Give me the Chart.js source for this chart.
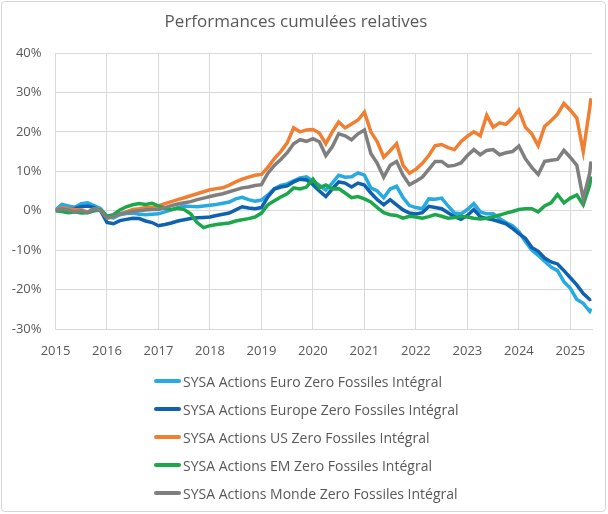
<!DOCTYPE html>
<html>
<head>
<meta charset="utf-8">
<script src="https://cdn.jsdelivr.net/npm/chart.js@4/dist/chart.umd.min.js"></script>
<style>
  html, body { margin:0; padding:0; background:#fff; }
  #wrap { position:relative; width:608px; height:514px; overflow:hidden; }
  #frame { position:absolute; left:1px; top:1px; width:603px; height:509px; border:1px solid #d6d6d6; border-radius:4px; box-sizing:content-box; }
  #c { position:absolute; left:0; top:0; }
  #legend { position:absolute; left:154px; top:367px; font-family:"Open Sans", sans-serif; font-size:14px; color:#595959; }
  .item { height:28px; display:flex; align-items:center; white-space:nowrap; }
  .sw { width:27px; height:4px; margin-right:2px; border-radius:2px; }
</style>
</head>
<body>
<div id="wrap">
  <div id="frame"></div>
  <canvas id="c" width="608" height="514"></canvas>
  <div id="legend"></div>
</div>
<script>
const title = "Performances cumulées relatives";
const seriesNames = [
  "SYSA Actions Euro Zero Fossiles Intégral",
  "SYSA Actions Europe Zero Fossiles Intégral",
  "SYSA Actions US Zero Fossiles Intégral",
  "SYSA Actions EM Zero Fossiles Intégral",
  "SYSA Actions Monde Zero Fossiles Intégral"
];
const seriesColors = ["#27aae1", "#0f62b0", "#f07f32", "#1ba74a", "#7f7f7f"];
const yTicks = [-30, -20, -10, 0, 10, 20, 30, 40];
const yearTicks = [2015, 2016, 2017, 2018, 2019, 2020, 2021, 2022, 2023, 2024, 2025];

// dates in decimal years (1/8 year steps), last point = end of data
const dates = [
 2015.000,2015.125,2015.250,2015.375,2015.500,2015.625,2015.750,2015.875,
 2016.000,2016.125,2016.250,2016.375,2016.500,2016.625,2016.750,2016.875,
 2017.000,2017.125,2017.250,2017.375,2017.500,2017.625,2017.750,2017.875,
 2018.000,2018.125,2018.250,2018.375,2018.500,2018.625,2018.750,2018.875,
 2019.000,2019.125,2019.250,2019.375,2019.500,2019.625,2019.750,2019.875,
 2020.000,2020.125,2020.250,2020.375,2020.500,2020.625,2020.750,2020.875,
 2021.000,2021.125,2021.250,2021.375,2021.500,2021.625,2021.750,2021.875,
 2022.000,2022.125,2022.250,2022.375,2022.500,2022.625,2022.750,2022.875,
 2023.000,2023.125,2023.250,2023.375,2023.500,2023.625,2023.750,2023.875,
 2024.000,2024.125,2024.250,2024.375,2024.500,2024.625,2024.750,2024.875,
 2025.000,2025.125,2025.250,2025.375,2025.400
];

const euro = [
 0.2,1.6,1.2,0.9,1.8,2.0,1.3,0.5,
 -1.5,-1.8,-1.0,-0.7,-0.6,-0.9,-1.0,-0.9,
 -0.8,-0.3,0.2,0.8,1.2,1.1,1.0,1.2,
 1.4,1.6,1.9,2.2,3.0,3.4,2.8,2.4,
 2.7,4.0,5.6,6.4,6.8,7.6,8.3,8.6,
 7.5,6.5,5.2,7.0,9.0,8.5,8.6,9.6,
 9.0,5.8,5.0,3.3,5.5,6.2,3.3,1.3,
 0.8,0.5,3.0,2.9,3.2,1.2,-0.6,-0.8,
 0.3,1.8,-0.3,-0.8,-0.8,-2.0,-3.0,-3.8,
 -5.3,-7.8,-10.0,-11.3,-12.8,-14.3,-15.2,-18.0,
 -19.7,-22.5,-23.5,-25.5,-24.8
];
const europe = [
 0.0,0.5,0.3,0.6,1.0,1.2,0.8,0.0,
 -3.0,-3.3,-2.5,-2.2,-1.9,-2.0,-2.6,-3.0,
 -3.8,-3.5,-3.1,-2.6,-2.3,-2.0,-1.8,-1.7,
 -1.6,-1.2,-0.9,-0.6,0.2,1.0,0.7,0.5,
 0.8,3.5,5.5,6.0,6.3,7.3,8.0,7.8,
 6.6,5.0,3.6,5.5,7.3,7.0,6.0,7.0,
 6.5,4.5,2.8,1.5,2.8,1.5,0.2,-0.6,
 -0.8,-0.5,1.1,0.8,0.5,-0.5,-1.5,-2.2,
 -1.2,0.3,-1.5,-2.0,-2.3,-2.8,-3.3,-4.5,
 -5.8,-7.0,-9.3,-10.3,-12.0,-13.0,-13.5,-15.2,
 -17.0,-18.8,-21.0,-22.5,-22.3
];
const us = [
 0.0,0.8,0.5,0.3,0.2,-0.3,0.5,0.3,
 -1.8,-1.2,-0.8,-0.3,0.3,0.5,0.8,0.8,
 1.2,1.8,2.3,2.8,3.3,3.8,4.3,4.8,
 5.3,5.6,5.8,6.5,7.3,8.0,8.5,9.0,
 9.2,11.0,13.2,15.0,17.2,21.0,20.0,20.5,
 20.6,19.7,17.0,20.0,22.5,21.0,22.0,23.0,
 25.0,20.0,17.5,13.6,15.2,17.0,11.5,9.5,
 10.5,12.0,14.0,16.5,16.8,16.0,15.5,17.5,
 18.9,20.0,19.0,24.2,21.2,22.3,21.9,23.5,
 25.5,21.2,19.5,16.5,21.4,22.8,24.5,27.2,
 25.5,23.5,15.0,26.0,28.5
];
const em = [
 0.0,-0.2,-0.5,-0.3,-0.6,-0.5,0.0,0.2,
 -1.4,-1.0,0.2,1.0,1.5,1.8,1.6,1.9,
 1.2,0.6,0.3,0.6,0.3,-0.8,-3.0,-4.3,
 -3.8,-3.5,-3.3,-3.1,-2.6,-2.3,-2.0,-1.6,
 -0.6,1.5,2.5,3.5,4.3,5.8,5.5,6.0,
 8.0,5.8,6.5,5.5,5.6,4.5,3.3,3.6,
 3.0,2.2,0.8,-0.5,-1.0,-1.2,-1.9,-1.4,
 -1.6,-1.9,-1.5,-1.0,-1.4,-1.9,-1.7,-1.4,
 -1.6,-1.9,-2.1,-1.9,-1.5,-1.1,-0.6,-0.2,
 0.3,0.5,0.5,-0.3,1.2,2.0,4.1,2.0,
 3.2,4.0,1.5,6.5,8.7
];
const monde = [
 0.0,0.5,0.2,-0.3,0.0,-0.5,0.5,0.0,
 -1.9,-1.5,-0.8,-0.5,-0.2,0.0,0.2,0.3,
 0.3,0.8,1.3,1.7,2.0,2.3,2.8,3.2,
 3.6,4.0,4.3,4.8,5.3,5.8,6.0,6.4,
 6.6,9.5,11.5,13.0,14.7,17.0,18.0,17.6,
 18.3,17.5,14.0,16.2,19.5,19.0,18.0,19.5,
 20.5,14.5,12.0,8.5,11.5,12.5,9.0,6.6,
 7.5,8.5,10.5,12.5,12.5,11.3,11.5,12.1,
 14.0,15.5,14.2,15.3,15.5,14.2,14.7,15.0,
 16.4,13.2,11.0,9.2,12.5,12.8,13.0,15.3,
 13.5,11.5,3.0,9.5,12.5
];

const seriesValues = [euro, europe, us, em, monde];
const drawOrder = [4, 3, 2, 1, 0]; // lower = drawn on top

const FONT = "'Open Sans', sans-serif";
const TXT = "#595959";
const GRID = "#d9d9d9";

const datasets = seriesNames.map((name, i) => ({
  label: name,
  data: dates.map((d, k) => ({ x: d, y: seriesValues[i][k] })),
  borderColor: seriesColors[i],
  backgroundColor: seriesColors[i],
  borderWidth: 3.5,
  pointRadius: 0,
  pointHoverRadius: 0,
  tension: 0,
  fill: false,
  order: drawOrder[i]
}));

new Chart(document.getElementById('c'), {
  type: 'line',
  data: { datasets },
  options: {
    responsive: false,
    animation: false,
    events: [],
    layout: { padding: { left: 0, right: 16, top: 0, bottom: 155 } },
    plugins: {
      legend: { display: false },
      tooltip: { enabled: false },
      title: {
        display: true,
        text: title,
        color: TXT,
        font: { family: FONT, size: 17, weight: 'normal' },
        padding: { top: 12, bottom: 20.6 }
      }
    },
    scales: {
      x: {
        type: 'linear',
        min: 2015,
        max: 2025.42,
        afterBuildTicks: (s) => { s.ticks = yearTicks.map(v => ({ value: v })); },
        afterFit: (s) => { s.height = 30; },
        ticks: {
          includeBounds: false,
          autoSkip: false,
          maxRotation: 0,
          padding: 14,
          color: TXT,
          font: { family: FONT, size: 13 },
          callback: (v) => String(v)
        },
        grid: { color: GRID, lineWidth: 1, drawTicks: false },
        border: { color: GRID }
      },
      y: {
        min: -30,
        max: 40,
        afterBuildTicks: (s) => { s.ticks = yTicks.map(v => ({ value: v })); },
        afterFit: (s) => { s.width = 55.5; },
        ticks: {
          padding: 14,
          color: TXT,
          font: { family: FONT, size: 13 },
          callback: (v) => v + '%'
        },
        grid: { color: GRID, lineWidth: 1, drawTicks: false },
        border: { color: GRID }
      }
    }
  }
});

const lg = document.getElementById('legend');
seriesNames.forEach((name, i) => {
  const it = document.createElement('div');
  it.className = 'item';
  const sw = document.createElement('span');
  sw.className = 'sw';
  sw.style.background = seriesColors[i];
  const tx = document.createElement('span');
  tx.textContent = name;
  it.appendChild(sw); it.appendChild(tx);
  lg.appendChild(it);
});
</script>
</body>
</html>
